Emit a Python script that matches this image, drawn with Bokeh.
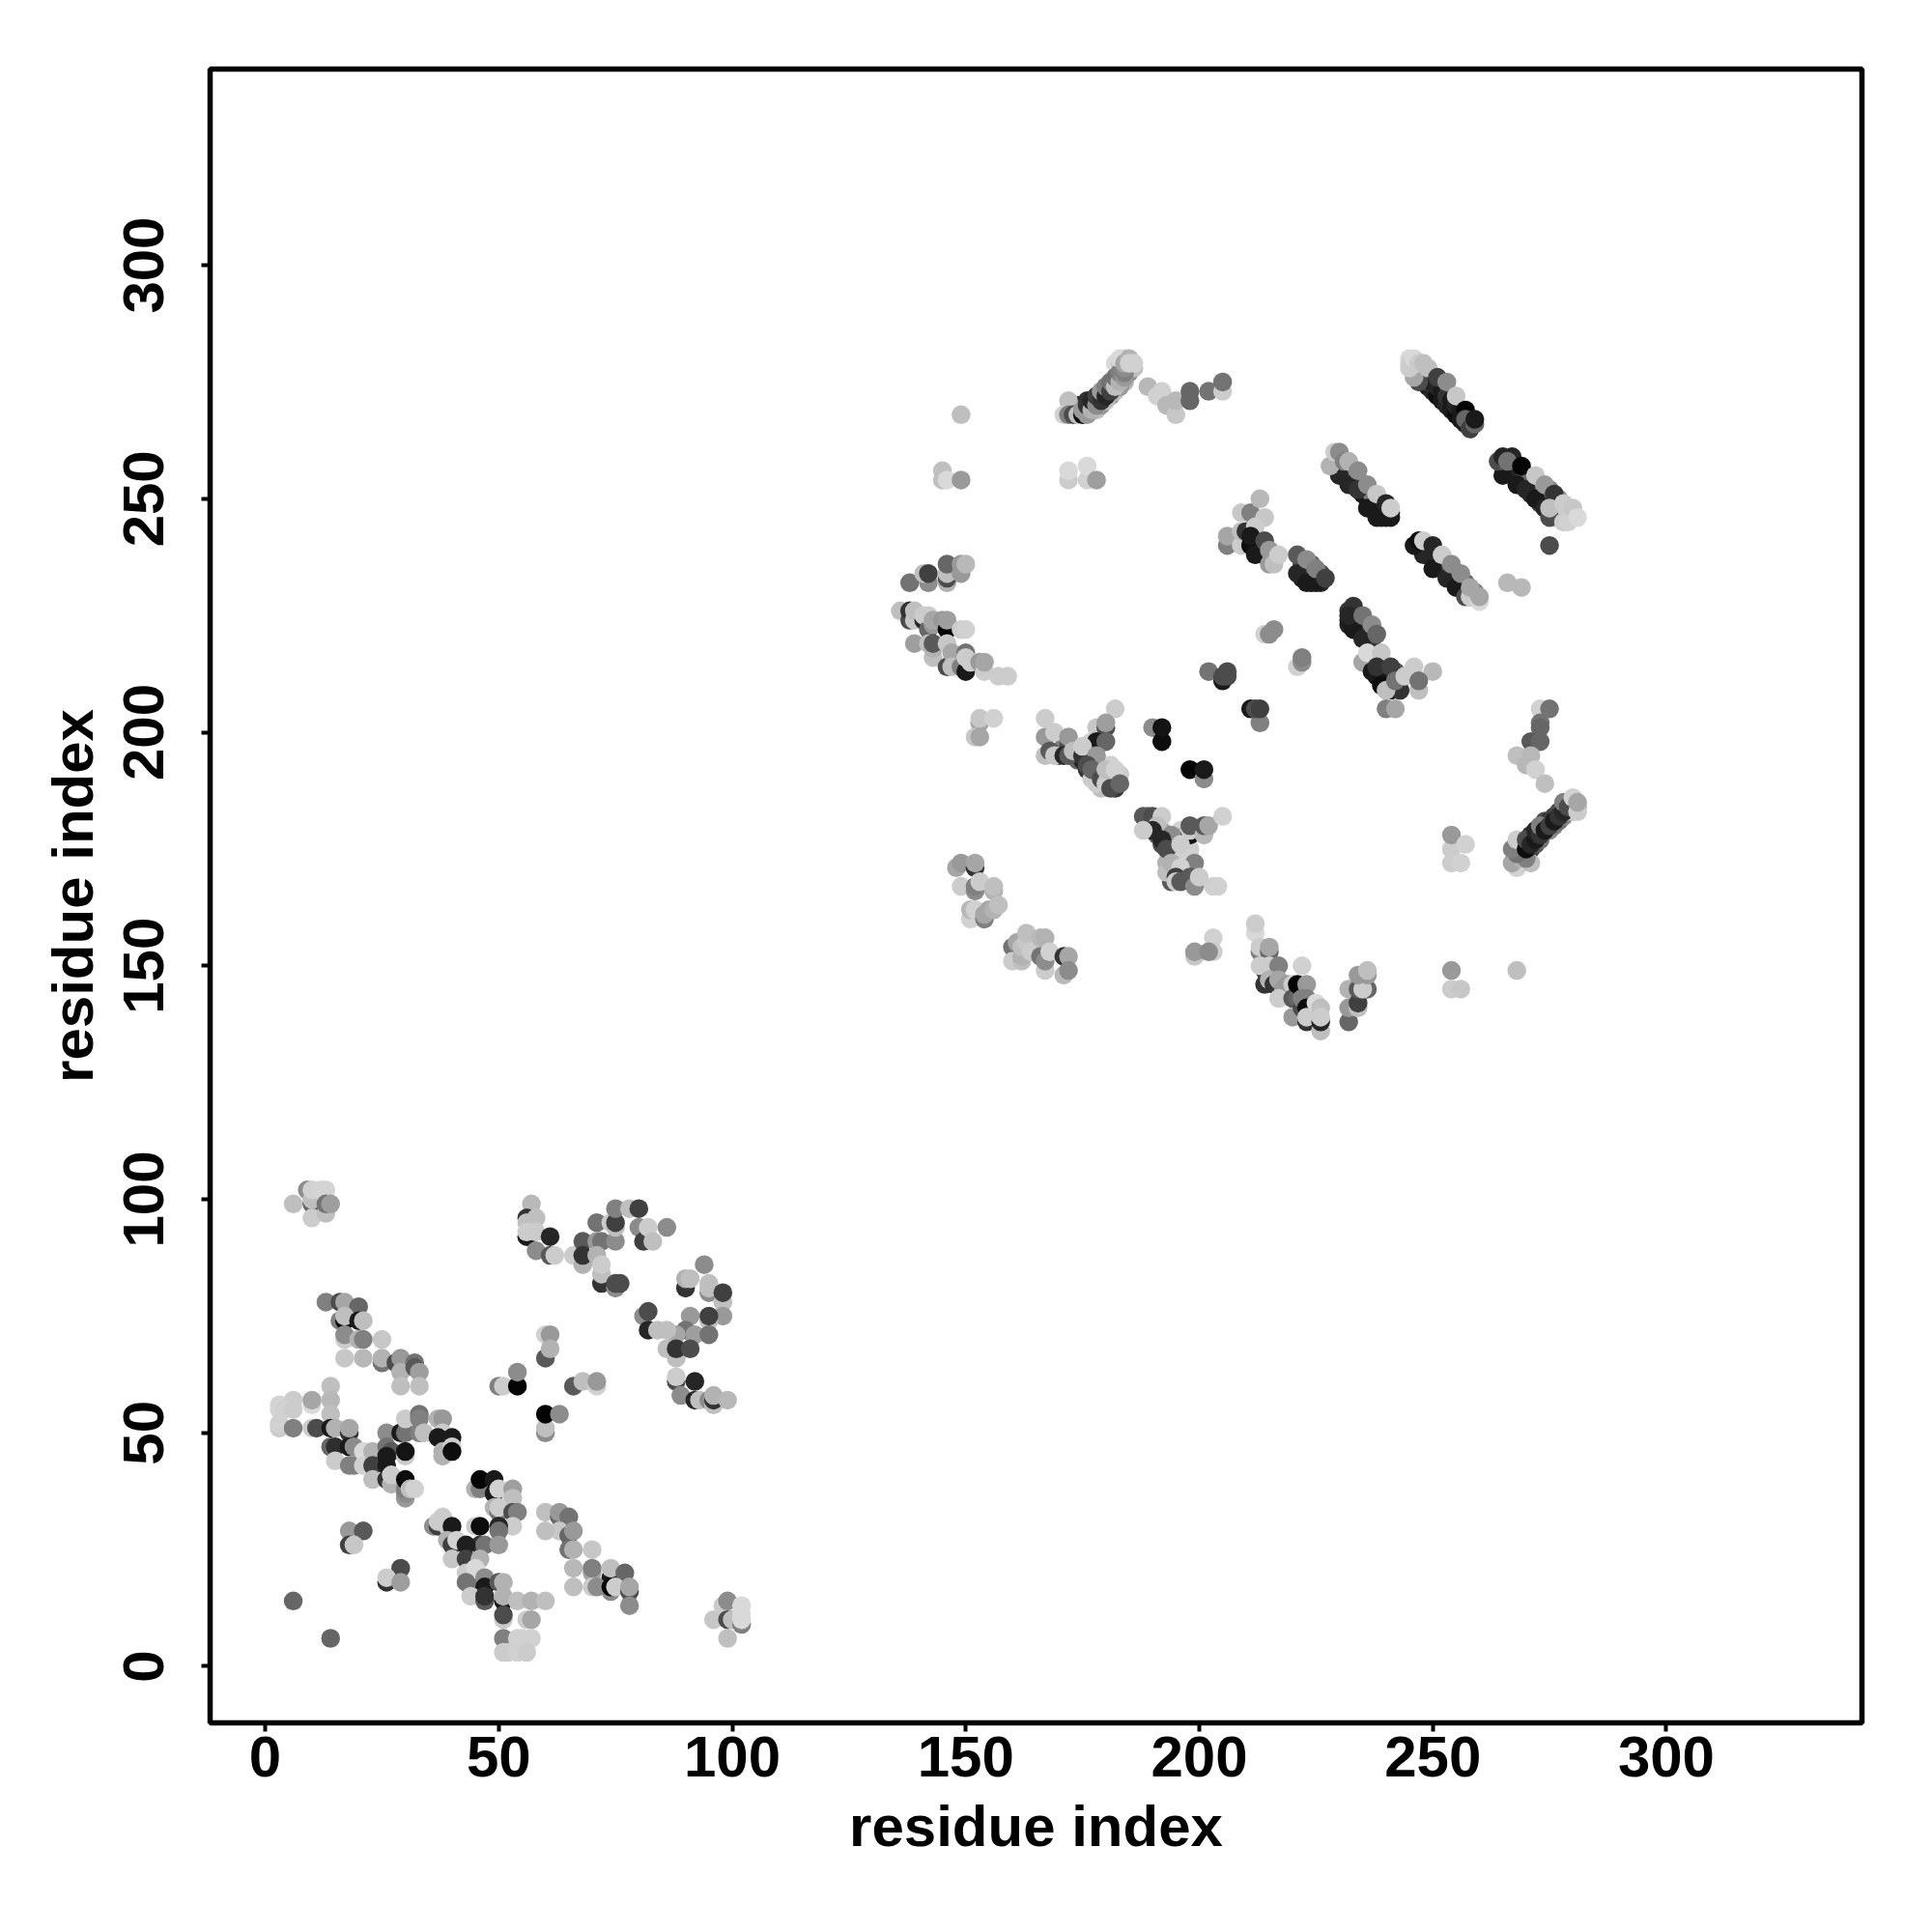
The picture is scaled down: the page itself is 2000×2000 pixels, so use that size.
from bokeh.plotting import figure
from bokeh.models import Range1d, FixedTicker
from bokeh.embed import file_html
from bokeh.resources import INLINE

tick_values = [0, 50, 100, 150, 200, 250, 300]
axis_title = "residue index"

# every contact: (residue i, residue j, grey level 0 = black .. 1 = white), in drawing order
corner_top = [(6,99,.75),(9,102,.55),(10,99,.4),(10,100,.75),(10,96,.8),(10,102,.82),(12,102,.83),(13,102,.83),(13,97,.75),(13,99,.45),(14,99,.62)]
corner_78 = [(13,78,.5),(16,78,.3),(17,78,.65),(20,77,.4),(16,74,.5),(17,74,.05),(17,75,.75),(20,74,.1),(21,74,.75),(17,70,.8),(17,71,.55),(20,70,.7),(21,70,.5),(25,70,.78),(17,66,.78),(21,66,.72),(25,65,.45),(25,66,.7),(28,65,.3),(29,66,.6),(29,63,.7),(32,65,.45),(32,64,.35),(33,63,.62),(29,60,.75),(33,60,.75)]
corner_55 = [(3,56,.83),(3,55,.83),(6,57,.8),(4,55,.82),(6,55,.8),(10,56,.85),(10,57,.65),(14,60,.75),(14,57,.72),(14,54,.75),(3,51,.8),(3,52,.82),(6,51,.5),(10,51,.8),(11,51,.3),(14,51,.1),(15,51,.7),(18,50,.2),(18,51,.65),(14,47,.4),(15,47,.18),(15,44,.8),(18,47,.1),(19,47,.55),(18,43,.5),(19,43,.5),(21,46,.85),(21,43,.82),(23,46,.7),(23,43,.25),(23,40,.75)]
band_50 = [(26,50,.55),(29,50,.1),(30,50,.45),(30,53,.8),(33,54,.45),(33,53,.5),(33,50,.5),(34,50,.75),(37,53,.7),(38,53,.6),(38,50,.8),(37,49,.1),(40,49,.1),(38,46,.7),(38,45,.7),(40,47,.8),(40,46,.05),(26,47,.45),(27,46,.35),(30,45,.8),(30,46,.08),(26,45,.1),(26,43,.1),(26,40,.2),(27,39,.7),(27,41,.8),(30,36,.6),(30,37,.55),(30,38,.5),(30,40,.05),(31,38,.75),(32,38,.82)]
band_40 = [(45,38,.7),(46,38,.5),(46,40,.02),(49,37,.1),(49,40,.1),(50,38,.82),(53,38,.62),(53,36,.75),(49,34,.7),(50,33,.45),(50,34,.8),(53,33,.3),(54,33,.5),(53,30,.8),(50,30,.15),(45,30,.8),(46,30,.05),(50,29,.45),(46,26,.2),(47,26,.45),(50,26,.6)]
band_30 = [(36,30,.55),(37,30,.25),(37,31,.8),(38,32,.8),(39,30,.8),(40,30,.1),(39,27,.7),(40,26,.25),(41,27,.82),(43,26,.12),(40,23,.78),(43,23,.25),(46,23,.7),(43,20,.8),(45,21,.85),(43,18,.45),(44,17,.45),(47,19,.55),(47,17,.1),(50,18,.35),(51,18,.7),(44,15,.8),(47,14,.35),(47,15,.2),(51,14,.1),(51,15,.7),(54,14,.75),(57,14,.7),(60,14,.75),(51,10,.8),(51,11,.3),(56,10,.8),(57,10,.65),(51,6,.5),(54,6,.82),(57,6,.82),(55,6,.82),(51,3,.8),(52,3,.8),(54,3,.82),(56,3,.8)]
small_spots = [(18,29,.6),(21,29,.35),(18,26,.25),(19,26,.78),(6,14,.4),(14,6,.4),(29,21,.3),(26,18,.2),(26,19,.8),(29,18,.62)]
band_25 = [(60,33,.75),(63,32,.4),(63,33,.6),(65,32,.45),(63,29,.78),(60,29,.75),(65,28,.4),(66,29,.6),(65,25,.45),(66,25,.7),(70,25,.78),(66,21,.72),(70,20,.65),(70,21,.5),(74,19,.1),(74,21,.75),(77,20,.4),(66,17,.75),(70,17,.8),(71,17,.55),(74,16,.55),(74,17,.02),(75,17,.8),(78,16,.3),(78,17,.65),(78,13,.55)]
corner_100 = [(98,13,.8),(99,14,.55),(96,10,.78),(99,10,.3),(100,10,.75),(102,9,.5),(102,10,.85),(102,11,.85),(102,13,.85),(99,6,.75)]
cross_60 = [(50,60,.5),(51,60,.8),(54,60,.02),(54,63,.55),(60,71,.82),(61,71,.6),(60,66,.35),(61,68,.7),(66,60,.35),(68,61,.75),(71,60,.82),(71,61,.6),(60,50,.55),(60,51,.75),(60,54,.02),(63,54,.55)]
arc_95 = [(57,99,.72),(56,96,.2),(56,95,.75),(58,96,.75),(56,92,.1),(56,93,.8),(58,93,.8),(61,92,.15),(58,89,.55),(61,88,.35),(62,88,.8),(66,88,.8),(68,91,.35),(68,86,.7),(68,88,.2),(71,95,.45),(71,91,.6),(72,91,.45),(75,91,.55),(74,95,.8),(75,94,.75),(75,95,.25),(75,98,.5),(71,88,.7),(72,82,.2),(72,84,.75),(72,86,.8),(75,81,.55),(75,82,.3),(76,82,.3),(78,98,.75),(80,98,.25),(80,94,.55),(81,91,.25),(82,94,.8),(83,91,.75),(86,94,.55)]
arc_80 = [(94,86,.55),(90,81,.2),(90,83,.7),(91,83,.75),(95,80,.55),(95,81,.75),(95,82,.75),(98,78,.75),(98,80,.25),(98,75,.6),(95,74,.75),(95,75,.25),(91,75,.6),(90,72,.45),(92,71,.62),(95,71,.45),(88,71,.65),(81,75,.55),(82,76,.3),(82,72,.15),(84,72,.75),(86,72,.75),(86,68,.75),(88,66,.75),(88,68,.2),(91,68,.3),(88,61,.3),(88,62,.8),(92,61,.15),(89,58,.55),(92,57,.15),(93,57,.75),(95,57,.55),(96,56,.75),(96,57,.2),(96,58,.7),(99,57,.72)]

pair_top = [(149,268,.75),(145,256,.75),(145,254,.75),(146,254,.85),(149,254,.6),(172,254,.8),(172,256,.85),(176,254,.82),(176,257,.85),(178,254,.62)]
helix_270_under = [(173,270,.6),(174,269,.15),(174,270,.3),(175,270,.1),(176,271,.2),(177,270,.1),(178,271,.1),(179,272,.05),(180,273,.15),(181,274,.2),(182,275,.3),(183,276,.4),(184,275,.7),(181,272,.6),(182,273,.75),(183,274,.6),(178,269,.75),(179,270,.6),(180,271,.75),(185,277,.55),(185,278,.6),(186,278,.75),(182,279,.85),(183,279,.8),(184,280,.8)]
helix_270 = [(172,271,.75),(171,268,.82),(172,268,.5),(173,268,.3),(174,268,.75),(175,268,.05),(175,269,.6),(176,268,.6),(176,270,.2),(177,269,.7),(177,271,.15),(178,270,.55),(178,272,.25),(179,271,.2),(179,273,.6),(180,272,.15),(180,274,.5),(181,273,.25),(181,275,.45),(182,274,.75),(182,276,.45),(183,275,.7),(183,277,.5),(184,276,.6),(183,280,.85),(184,277,.5),(184,278,.55),(184,279,.65),(185,280,.7),(185,279,.82),(186,279,.82)]
spots_272 = [(189,274,.72),(191,272,.82),(192,273,.82),(193,270,.72),(195,268,.78),(195,271,.72),(198,271,.4),(198,273,.4),(202,273,.45),(205,273,.8),(205,275,.45)]
arc_234 = [(138,232,.45),(142,232,.55),(141,234,.75),(142,234,.25),(146,232,.7),(146,233,.3),(146,234,.75),(146,236,.4),(149,234,.6),(149,236,.6),(150,236,.72)]
arc_222 = [(136,226,.75),(138,224,.3),(138,226,.2),(139,224,.78),(139,226,.75),(141,224,.15),(141,225,.8),(142,222,.4),(142,225,.8),(143,223,.6),(143,224,.65),(145,224,.6),(146,222,.02),(146,224,.62),(149,222,.8),(150,222,.82),(139,219,.62),(142,219,.75),(143,216,.75),(143,218,.7),(143,219,.35),(146,219,.78),(146,214,.3),(147,217,.65),(147,214,.75),(149,214,.5),(150,213,.1),(150,217,.45),(150,216,.8),(151,215,.8),(153,215,.6),(154,213,.8),(154,215,.65),(157,212,.8),(159,212,.8)]
strand_a_under = [(249,274,.1),(250,273,.15),(251,272,.05),(252,271,.1),(253,270,.15),(254,269,.1),(255,268,.05),(256,267,.1),(257,266,.15),(258,265,.2),(245,280,.85),(245,279,.82),(246,278,.75),(247,277,.6),(248,276,.3),(249,275,.2)]
strand_a = [(250,275,.1),(251,274,.15),(252,273,.1),(253,272,.2),(254,271,.1),(255,270,.15),(256,269,.1),(257,268,.1),(258,267,.15),(247,275,.3),(246,276,.65),(245,278,.8),(246,279,.8),(246,280,.85),(247,279,.8),(248,279,.75),(249,278,.75),(251,276,.25),(253,275,.55),(255,272,.78),(256,267,.1),(257,269,.02),(257,267,.4),(258,265,.25),(259,266,.4),(259,267,.1)]
strand_b_under = [(229,257,.3),(230,256,.2),(231,255,.15),(232,254,.1),(233,253,.15),(234,252,.1),(235,251,.05),(236,250,.1),(237,249,.15),(238,248,.1),(239,247,.05),(240,246,.1),(232,256,.35),(233,255,.5),(235,253,.4),(237,251,.5),(239,249,.2),(240,248,.1),(241,247,.1)]
strand_b = [(229,257,.2),(230,255,.15),(232,253,.15),(234,252,.2),(236,248,.1),(238,246,.1),(228,257,.7),(229,260,.8),(230,260,.55),(231,258,.5),(232,258,.7),(234,256,.55),(236,253,.55),(238,251,.78),(239,246,.1),(241,246,.1),(240,249,.15),(241,248,.8)]
strand_c_under = [(265,257,.15),(267,257,.1),(266,256,.1),(267,255,.15),(268,254,.1),(268,256,.15),(269,253,.05),(270,252,.1),(271,251,.15),(272,250,.1),(273,249,.2),(274,248,.15),(275,247,.3),(276,246,.7),(277,246,.8),(270,255,.3),(271,254,.4),(273,253,.6),(275,252,.5),(277,250,.6),(278,248,.8),(279,247,.8),(280,246,.85)]
strand_c = [(265,255,.1),(268,253,.1),(270,252,.15),(272,250,.1),(274,248,.15),(275,246,.3),(264,258,.3),(265,259,.15),(267,259,.15),(266,258,.45),(269,257,.02),(272,255,.78),(274,253,.6),(276,251,.2),(275,248,.75),(278,245,.8),(279,245,.82),(278,249,.8),(280,248,.78),(281,246,.85),(275,240,.3),(266,232,.72),(269,231,.72)]
strand_d_under = [(247,240,.1),(248,239,.15),(249,238,.1),(250,237,.15),(251,236,.1),(252,235,.1),(253,234,.15),(254,233,.1),(255,232,.05),(256,231,.15),(257,230,.2),(258,229,.5),(250,239,.4),(251,238,.2),(253,236,.4),(255,234,.3),(257,232,.4),(259,230,.5)]
strand_d = [(248,238,.15),(250,235,.1),(253,233,.15),(255,231,.1),(257,229,.3),(246,240,.1),(247,241,.05),(248,241,.8),(250,240,.15),(252,238,.8),(254,236,.55),(256,234,.55),(258,229,.8),(258,231,.65),(260,228,.85),(260,229,.65)]
strand_e_under = [(210,241,.1),(211,241,.1),(212,240,.05),(213,239,.1),(213,240,.3),(214,238,.15),(214,239,.6),(215,238,.5),(216,237,.7),(222,233,.1),(222,235,.1),(222,236,.3),(223,234,.15),(224,232,.1),(224,234,.3),(224,236,.4),(226,232,.15),(226,234,.3)]
strand_e = [(206,240,.5),(206,242,.65),(209,247,.78),(211,247,.5),(213,250,.72),(214,246,.78),(209,240,.8),(209,243,.75),(210,243,.2),(212,244,.8),(211,240,.05),(211,242,.1),(212,238,.1),(214,241,.3),(215,236,.6),(215,239,.6),(216,236,.75),(217,238,.8),(221,234,.15),(221,238,.35),(223,232,.1),(223,237,.55),(225,232,.1),(225,235,.5),(227,233,.25)]
strand_f_under = [(232,226,.2),(232,223,.15),(233,225,.2),(233,224,.1),(234,223,.1),(234,224,.3),(235,222,.1),(236,221,.15),(236,223,.3),(237,220,.2),(236,215,.3),(237,215,.2),(237,214,.1),(238,212,.1),(239,211,.05),(240,211,.1),(240,210,.15),(241,212,.1),(242,213,.35),(243,211,.4),(241,210,.2),(237,216,.6),(238,216,.7),(239,215,.4)]
strand_f = [(232,224,.1),(233,222,.1),(235,220,.15),(233,227,.2),(232,225,.15),(235,225,.45),(237,223,.55),(238,221,.4),(235,215,.65),(236,217,.85),(239,217,.78),(237,213,.1),(238,214,.2),(239,210,.05),(241,209,.15),(243,209,.2),(240,209,.75),(241,214,.25),(242,211,.45),(244,212,.8),(246,214,.8),(250,213,.72),(247,209,.75),(247,211,.45),(240,205,.5),(242,205,.65)]
spots_210 = [(214,221,.82),(215,221,.55),(216,222,.55),(221,214,.82),(222,215,.55),(222,216,.5),(202,213,.45),(205,211,.1),(205,212,.3),(206,212,.3),(206,213,.3),(213,202,.5),(211,205,.1),(212,205,.3),(213,205,.25)]
strand_h_under = [(268,172,.55),(268,173,.4),(268,175,.5),(269,174,.3),(270,174,.35),(269,175,.6),(269,176,.2),(271,175,.25),(270,176,.1),(272,176,.35),(271,177,.05),(273,177,.45),(271,178,.2),(272,178,.15),(273,179,.1),(274,180,.1),(275,179,.55),(274,181,.3),(276,180,.5),(275,181,.2),(277,181,.45),(276,182,.25),(278,182,.5),(277,183,.3),(279,183,.6),(278,184,.4),(280,183,.8),(280,184,.75),(279,185,.6),(281,184,.7)]
strand_h = [(273,205,.82),(275,205,.45),(273,202,.45),(273,201,.4),(271,198,.35),(273,198,.4),(268,195,.75),(270,193,.72),(271,195,.72),(272,192,.82),(274,189,.75),(268,171,.82),(267,172,.65),(271,172,.75),(269,173,.7),(270,173,.5),(268,174,.45),(267,175,.5),(268,177,.8),(270,175,.05),(270,177,.3),(271,176,.15),(272,177,.1),(272,179,.15),(273,178,.2),(273,180,.5),(274,179,.1),(275,180,.25),(276,181,.1),(277,182,.2),(278,183,.15),(278,185,.5),(279,184,.3),(281,183,.8),(280,186,.82),(281,185,.65)]
pair_bottom = [(254,175,.8),(254,178,.6),(257,176,.82),(254,172,.8),(256,172,.82),(254,145,.8),(256,145,.78),(254,149,.6),(268,149,.75)]
valley_140 = [(212,157,.85),(212,159,.8),(213,153,.5),(213,154,.8),(215,153,.4),(215,154,.65),(214,149,.2),(213,150,.8),(215,150,.8),(217,150,.5),(214,146,.2),(215,147,.7),(216,146,.2),(217,147,.65),(218,145,.6),(219,146,.6),(217,143,.8),(220,146,.8),(220,143,.35),(220,139,.6),(222,150,.82),(221,143,.4),(221,146,.02),(223,146,.6),(222,141,.3),(222,143,.5),(223,143,.5),(223,141,.05),(223,138,.2),(223,139,.8),(226,136,.75),(226,138,.15),(225,142,.85),(226,141,.75),(226,139,.8),(232,138,.4),(232,141,.6),(232,145,.7),(234,141,.75),(234,142,.25),(234,145,.35),(236,145,.4),(235,145,.8),(234,148,.6),(236,148,.6),(236,149,.75)]
spots_203 = [(153,202,.65),(153,203,.78),(156,203,.82),(152,199,.78),(153,199,.65),(203,167,.82),(203,156,.82),(203,153,.8),(199,152,.78),(199,153,.6),(202,153,.55)]
branch_195_under = [(170,195,.3),(171,197,.5),(172,197,.3),(173,195,.7),(174,194,.4),(175,194,.15),(176,195,.35),(176,192,.2),(177,194,.5),(177,195,.65),(178,193,.15),(178,192,.5),(179,192,.3),(179,193,.6),(180,191,.2),(180,190,.3),(181,190,.4),(181,191,.55),(179,188,.75),(177,190,.8),(178,189,.8),(181,193,.82),(183,191,.8)]
branch_195 = [(167,203,.8),(182,205,.8),(178,201,.78),(180,201,.3),(180,202,.62),(177,198,.82),(178,198,.1),(180,198,.4),(167,199,.6),(169,200,.8),(172,199,.6),(167,195,.75),(168,196,.35),(169,195,.78),(171,195,.15),(172,195,.35),(173,196,.75),(175,195,.2),(175,197,.8),(178,195,.6),(176,193,.3),(177,192,.4),(179,190,.3),(180,189,.8),(180,192,.75),(182,188,.2),(181,188,.3),(182,192,.82),(183,189,.4)]
spots_195 = [(190,201,.55),(192,198,.05),(192,201,.08),(198,192,.02),(201,190,.55),(201,192,.1)]
branch_175_under = [(190,181,.35),(189,180,.3),(190,180,.6),(191,178,.35),(191,179,.2),(192,179,.7),(192,176,.3),(193,177,.6),(193,178,.55),(194,176,.45),(194,174,.3),(195,177,.7),(195,174,.75),(195,172,.8),(196,174,.82),(194,170,.4),(194,168,.35),(197,176,.8),(197,174,.82),(197,172,.8),(198,175,.8),(196,179,.82),(197,178,.7),(193,172,.7),(193,170,.75)]
branch_175 = [(189,182,.4),(188,182,.35),(190,182,.3),(192,182,.8),(191,180,.75),(190,179,.15),(188,179,.8),(194,178,.55),(198,178,.05),(198,179,.8),(198,180,.35),(201,178,.72),(201,180,.35),(202,180,.65),(205,182,.82),(192,177,.15),(193,175,.3),(196,176,.8),(198,173,.82),(199,172,.5),(194,172,.7),(196,171,.82),(195,169,.25),(195,168,.8),(196,168,.35),(198,169,.35),(199,167,.55),(200,169,.8),(204,167,.82)]
group_165 = [(148,171,.65),(149,172,.6),(152,171,.2),(152,172,.65),(149,167,.8),(152,166,.55),(152,167,.5),(153,168,.8),(156,166,.7),(156,167,.75),(151,160,.82),(151,162,.72),(152,162,.82),(154,160,.5),(154,161,.65),(155,162,.65),(156,162,.7),(157,163,.75)]
group_152 = [(160,154,.45),(160,151,.8),(161,155,.65),(162,151,.75),(162,152,.7),(162,154,.75),(163,155,.78),(163,157,.75),(164,153,.8),(166,156,.72),(167,156,.7),(166,152,.45),(167,149,.8),(167,151,.55),(168,153,.82),(171,152,.2),(172,152,.65),(171,148,.72),(172,149,.55)]

clusters = [corner_top, corner_78, corner_55, band_50, band_40, band_30, small_spots, band_25, corner_100,
            cross_60, arc_95, arc_80, pair_top, helix_270_under, helix_270, spots_272, arc_234, arc_222,
            strand_a_under, strand_a, strand_b_under, strand_b, strand_c_under, strand_c, strand_d_under, strand_d,
            strand_e_under, strand_e, strand_f_under, strand_f, spots_210, strand_h_under, strand_h, pair_bottom,
            valley_140, spots_203, branch_195_under, branch_195, spots_195, branch_175_under, branch_175,
            group_165, group_152]

xs, ys, colors = [], [], []
for cluster in clusters:
    for i, j, shade in cluster:
        level = round(shade * 255)
        xs.append(i)
        ys.append(j)
        colors.append(f"#{level:02x}{level:02x}{level:02x}")

p = figure(frame_width=1710, frame_height=1712, x_range=Range1d(-11.8, 341.9), y_range=Range1d(-12.1, 342.0),
           output_backend="svg", toolbar_location=None, min_border_left=217, min_border_top=71,
           min_border_right=30, min_border_bottom=150, background_fill_color="white",
           outline_line_color="black", outline_line_width=5.5, outline_line_alpha=1)
p.grid.visible = False
p.scatter(xs, ys, size=19.5, color=colors, line_color=None)

for ax in (p.xaxis[0], p.yaxis[0]):
    ax.ticker = FixedTicker(ticks=tick_values)
    ax.axis_label = axis_title
    ax.axis_line_color = None
    ax.major_tick_line_color = "black"
    ax.major_tick_line_width = 4
    ax.major_tick_in = 0
    ax.major_tick_out = 9
    ax.minor_tick_line_color = None
    ax.major_label_text_font = "Liberation Sans"
    ax.major_label_text_font_style = "bold"
    ax.major_label_text_font_size = "60px"
    ax.major_label_text_color = "black"
    ax.axis_label_text_font = "Liberation Sans"
    ax.axis_label_text_font_style = "bold"
    ax.axis_label_text_font_size = "60px"
    ax.axis_label_text_color = "black"
p.yaxis[0].major_label_orientation = "vertical"
p.xaxis[0].major_label_standoff = 5
p.yaxis[0].major_label_standoff = 39
p.xaxis[0].axis_label_standoff = 15
p.yaxis[0].axis_label_standoff = 17

open("out.html", "w").write(file_html(p, INLINE))
